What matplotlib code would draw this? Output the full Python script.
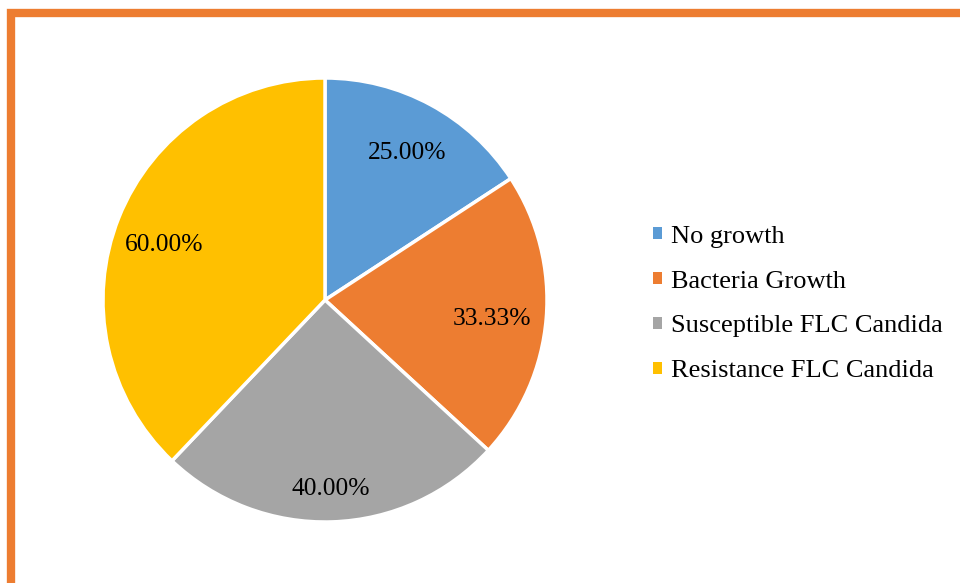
import matplotlib
matplotlib.use("Agg")
import matplotlib.pyplot as plt
from matplotlib.patches import Rectangle, Patch
import numpy as np

categories = ["No growth", "Bacteria Growth", "Susceptible FLC Candida", "Resistance FLC Candida"]
values = [25.00, 33.33, 40.00, 60.00]
colors = ["#5B9BD5", "#ED7D31", "#A5A5A5", "#FFC000"]
label_radii = [0.77, 0.755, 0.842, 0.771]
label_angle_shift = [-0.4, -0.8, 0.0, 2.2]

plt.rcParams['font.family'] = ['Liberation Serif', 'DejaVu Serif']

W, H = 960, 583
fig = plt.figure(figsize=(W / 100, H / 100), dpi=100)

# orange frame
fig.patches.append(Rectangle((11 / W, -0.2), 1.2, 1 - 13 / H + 0.2, transform=fig.transFigure,
                             fill=False, edgecolor="#ED7D31", linewidth=6, zorder=0))

cx, cy, r = 325, 300, 222
ax = fig.add_axes([(cx - r) / W, 1 - (cy + r) / H, 2 * r / W, 2 * r / H])
wedges, _ = ax.pie(values, colors=colors, startangle=90, counterclock=False,
                   wedgeprops=dict(edgecolor="white", linewidth=2.5))
ax.set_xlim(-1, 1)
ax.set_ylim(-1, 1)
ax.set_aspect("equal")
ax.axis("off")

for w, v, rr, da in zip(wedges, values, label_radii, label_angle_shift):
    ang = np.deg2rad((w.theta1 + w.theta2) / 2 + da)
    ax.text(rr * np.cos(ang), rr * np.sin(ang), f"{v:.2f}%", ha="center", va="center_baseline",
            fontsize=18.4, color="black")

handles = [Patch(facecolor=c, edgecolor="none") for c in colors]
fig.legend(handles, categories, loc="center left", bbox_to_anchor=(653 / W, 1 - 304 / H),
           frameon=False, fontsize=19, handlelength=0.34, handleheight=0.34,
           handletextpad=0.34, labelspacing=0.865, borderpad=0, borderaxespad=0)

fig.savefig("out.png", dpi=100, facecolor="white")
